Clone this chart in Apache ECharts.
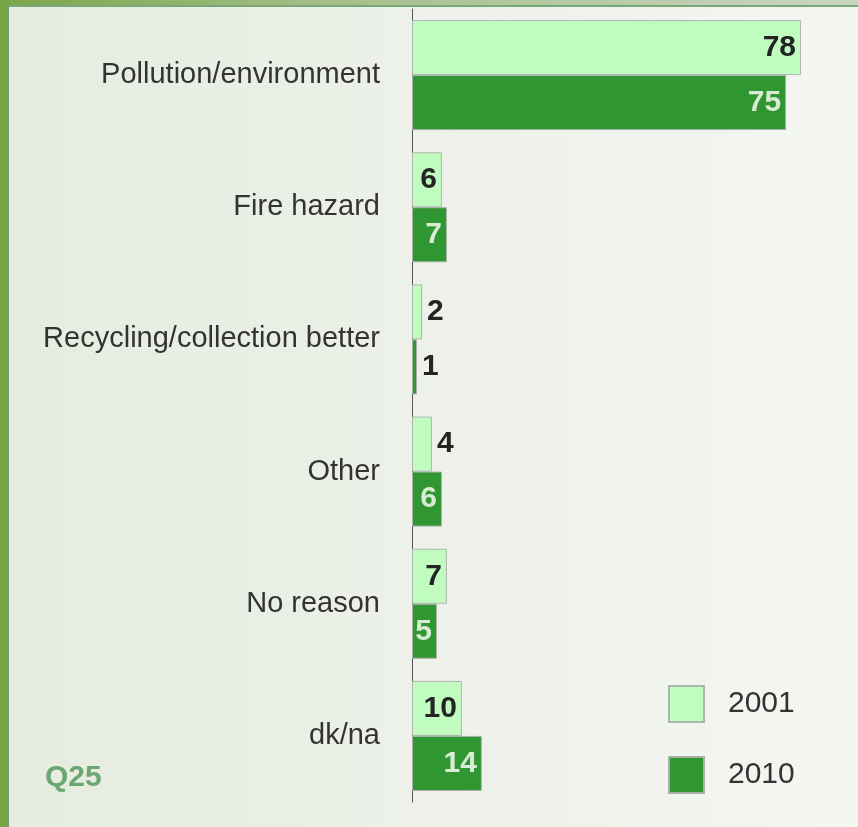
<!DOCTYPE html>
<html>
<head>
<meta charset="utf-8">
<script src="https://cdn.jsdelivr.net/npm/echarts@6/dist/echarts.min.js"></script>
<style>
html,body{margin:0;padding:0;background:#eef2ea;}
#chart{width:858px;height:827px;}
</style>
</head>
<body>
<div id="chart"></div>
<script>
const categories = ['Pollution/environment', 'Fire hazard', 'Recycling/collection better', 'Other', 'No reason', 'dk/na'];
const years = ['2001', '2010'];
const values2001 = [78, 6, 2, 4, 7, 10];
const values2010 = [75, 7, 1, 6, 5, 14];
const footnote = 'Q25';

const labelFont = '"Liberation Sans Narrow", "Arial Narrow", "Liberation Sans", Arial, sans-serif';
const textFont = '"Liberation Sans", Arial, sans-serif';

function makeData(vals, insideColor) {
  return vals.map(v => ({
    value: v,
    label: v >= 5
      ? { position: 'insideRight', distance: 5, color: insideColor }
      : { position: 'right', distance: 5, color: '#242424' }
  }));
}

const chart = echarts.init(document.getElementById('chart'), null, { renderer: 'canvas' });
chart.setOption({
  animation: false,
  backgroundColor: {
    type: 'linear', x: 0, y: 0, x2: 1, y2: 0,
    colorStops: [
      { offset: 0, color: '#e5ecdf' },
      { offset: 0.5, color: '#edf1e9' },
      { offset: 1, color: '#f4f6f2' }
    ]
  },
  grid: { left: 412, right: 47, top: 9, bottom: 25, containLabel: false },
  xAxis: {
    type: 'value', min: 0, max: 80, show: false
  },
  yAxis: {
    type: 'category', data: categories, inverse: true,
    axisLine: { show: true, lineStyle: { color: '#555', width: 1 } },
    axisTick: { show: false },
    axisLabel: { margin: 32, fontSize: 29, color: '#333', fontFamily: textFont }
  },
  legend: {
    orient: 'vertical', left: 668, top: 685, padding: 0,
    itemWidth: 35, itemHeight: 36, itemGap: 33,
    icon: 'rect',
    data: years,
    textStyle: { fontSize: 30, color: '#333', fontFamily: textFont, padding: [0, 0, 0, 19] }
  },
  series: [
    {
      name: years[0], type: 'bar', data: makeData(values2001, '#242424'),
      barWidth: 55, barGap: '0%',
      itemStyle: { color: '#c0fcbf', borderColor: '#b0b4b0', borderWidth: 1 },
      label: { show: true, fontSize: 30, fontWeight: 'bold', fontFamily: labelFont }
    },
    {
      name: years[1], type: 'bar', data: makeData(values2010, '#d8ecd4'),
      barWidth: 55, barGap: '0%',
      itemStyle: { color: '#309631', borderColor: '#a8b0a8', borderWidth: 1 },
      label: { show: true, fontSize: 30, fontWeight: 'bold', fontFamily: labelFont }
    }
  ],
  graphic: [
    { type: 'rect', left: 0, top: 0, shape: { width: 858, height: 5 }, silent: true,
      style: { fill: { type: 'linear', x: 0, y: 0, x2: 1, y2: 0,
        colorStops: [{ offset: 0, color: '#7aa64a' }, { offset: 0.4, color: '#a6c08c' }, { offset: 1, color: '#c9d6c2' }] } } },
    { type: 'rect', left: 0, top: 5, shape: { width: 858, height: 2 }, silent: true, style: { fill: '#78a878' } },
    { type: 'rect', left: 0, top: 0, shape: { width: 7, height: 827 }, silent: true, style: { fill: '#78a445' } },
    { type: 'rect', left: 7, top: 5, shape: { width: 2, height: 822 }, silent: true, style: { fill: '#68a07a' } },
    { type: 'text', left: 45, top: 763, silent: true,
      style: { text: footnote, fontSize: 30, fontWeight: 'bold', fill: '#6aa772', fontFamily: textFont } }
  ]
});
</script>
</body>
</html>
